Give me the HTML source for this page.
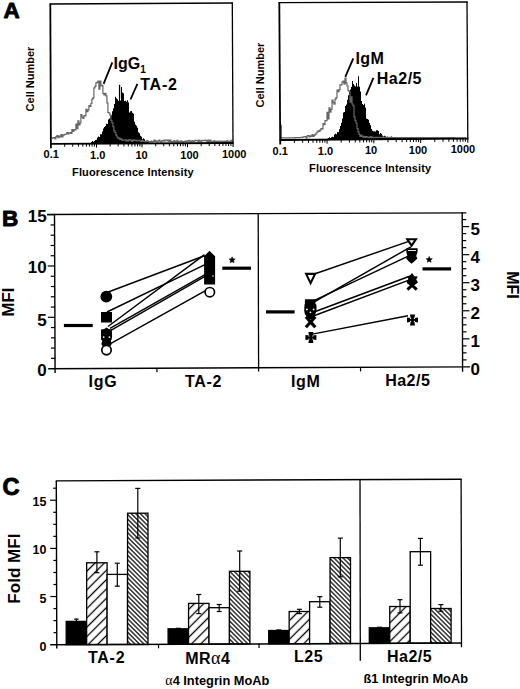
<!DOCTYPE html>
<html><head><meta charset="utf-8"><style>
html,body{margin:0;padding:0;background:#fff;}
svg{display:block;font-family:"Liberation Sans", sans-serif;}
</style></head><body>
<svg width="520" height="689" viewBox="0 0 520 689">
<rect width="520" height="689" fill="#fff"/>
<path d="M86.0,143.4L86.0,143.4L87.0,143.4L87.0,143.2L88.0,143.2L88.0,143.0L89.0,143.0L89.0,143.3L90.0,143.3L90.0,142.9L91.0,142.9L91.0,141.9L92.0,141.9L92.0,141.1L93.0,141.1L93.0,141.8L94.0,141.8L94.0,140.9L95.0,140.9L95.0,140.1L96.0,140.1L96.0,139.8L97.0,139.8L97.0,137.4L98.0,137.4L98.0,136.6L99.0,136.6L99.0,136.9L100.0,136.9L100.0,134.2L101.0,134.2L101.0,134.3L102.0,134.3L102.0,131.6L103.0,131.6L103.0,128.6L104.0,128.6L104.0,126.9L105.0,126.9L105.0,125.9L106.0,125.9L106.0,123.8L107.0,123.8L107.0,124.1L108.0,124.1L108.0,119.4L109.0,119.4L109.0,118.6L110.0,118.6L110.0,116.4L111.0,116.4L111.0,115.2L112.0,115.2L112.0,111.3L113.0,111.3L113.0,108.2L114.0,108.2L114.0,104.1L115.0,104.1L115.0,96.7L116.0,96.7L116.0,98.2L117.0,98.2L117.0,99.3L118.0,99.3L118.0,100.8L119.0,100.8L119.0,96.8L120.0,96.8L120.0,100.5L121.0,100.5L121.0,87.1L122.0,87.1L122.0,92.5L123.0,92.5L123.0,93.3L124.0,93.3L124.0,101.0L125.0,101.0L125.0,100.7L126.0,100.7L126.0,101.7L127.0,101.7L127.0,100.3L128.0,100.3L128.0,102.6L129.0,102.6L129.0,112.5L130.0,112.5L130.0,111.3L131.0,111.3L131.0,111.0L132.0,111.0L132.0,112.8L133.0,112.8L133.0,113.8L134.0,113.8L134.0,121.8L135.0,121.8L135.0,124.4L136.0,124.4L136.0,125.7L137.0,125.7L137.0,127.8L138.0,127.8L138.0,132.2L139.0,132.2L139.0,133.2L140.0,133.2L140.0,135.8L141.0,135.8L141.0,136.8L142.0,136.8L142.0,139.3L143.0,139.3L143.0,138.3L144.0,138.3L144.0,139.2L145.0,139.2L145.0,140.9L146.0,140.9L146.0,141.7L147.0,141.7L147.0,141.2L148.0,141.2L148.0,141.8L149.0,141.8L149.0,143.1L150.0,143.1L150.0,142.7L151.0,142.7L151.0,143.0L152.0,143.0L152.0,143.1L153.0,143.1L153.0,143.2L154.0,143.2L154.0,143.2L155.0,143.2L155.0,143.4Z" fill="#000"/>
<path d="M51.9,138.4L51.9,138.4L52.9,138.4L52.9,137.7L53.9,137.7L53.9,137.6L54.9,137.6L54.9,138.9L55.9,138.9L55.9,136.6L56.9,136.6L56.9,135.7L57.9,135.7L57.9,137.6L58.9,137.6L58.9,136.0L59.9,136.0L59.9,137.0L60.9,137.0L60.9,134.5L61.9,134.5L61.9,136.8L62.9,136.8L62.9,135.2L63.9,135.2L63.9,134.6L64.9,134.6L64.9,134.4L65.9,134.4L65.9,134.0L66.9,134.0L66.9,132.7L67.9,132.7L67.9,134.0L68.9,134.0L68.9,132.9L69.9,132.9L69.9,132.5L70.9,132.5L70.9,133.4L71.9,133.4L71.9,129.5L72.9,129.5L72.9,131.5L73.9,131.5L73.9,129.5L74.9,129.5L74.9,130.0L75.9,130.0L75.9,124.2L76.9,124.2L76.9,128.7L77.9,128.7L77.9,120.9L78.9,120.9L78.9,125.0L79.9,125.0L79.9,123.0L80.9,123.0L80.9,114.6L81.9,114.6L81.9,117.0L82.9,117.0L82.9,118.5L83.9,118.5L83.9,115.6L84.9,115.6L84.9,115.8L85.9,115.8L85.9,109.3L86.9,109.3L86.9,111.6L87.9,111.6L87.9,109.9L88.9,109.9L88.9,105.7L89.9,105.7L89.9,106.4L90.9,106.4L90.9,103.5L91.9,103.5L91.9,99.1L92.9,99.1L92.9,97.9L93.9,97.9L93.9,87.8L94.9,87.8L94.9,86.3L95.9,86.3L95.9,82.9L96.9,82.9L96.9,82.4L97.9,82.4L97.9,81.1L98.9,81.1L98.9,89.1L99.9,89.1L99.9,81.2L100.9,81.2L100.9,86.0L101.9,86.0L101.9,85.3L102.9,85.3L102.9,93.5L103.9,93.5L103.9,94.8L104.9,94.8L104.9,93.4L105.9,93.4L105.9,95.8L106.9,95.8L106.9,102.8L107.9,102.8L107.9,112.7L108.9,112.7L108.9,113.0L109.9,113.0L109.9,115.2L110.9,115.2L110.9,120.4L111.9,120.4L111.9,122.8L112.9,122.8L112.9,126.6L113.9,126.6L113.9,130.8L114.9,130.8L114.9,132.5L115.9,132.5L115.9,135.2L116.9,135.2L116.9,137.0L117.9,137.0L117.9,138.4L118.9,138.4L118.9,138.0L119.9,138.0L119.9,139.3L120.9,139.3L120.9,138.8L121.9,138.8L121.9,140.5L122.9,140.5L122.9,140.2L123.9,140.2L123.9,140.0L124.9,140.0L124.9,139.9L125.9,139.9L125.9,140.9L126.9,140.9L126.9,140.1L127.9,140.1L127.9,141.0L128.9,141.0L128.9,139.8L129.9,139.8L129.9,139.6L130.9,139.6L130.9,140.7L131.9,140.7L131.9,141.5L132.9,141.5L132.9,139.8L133.9,139.8L133.9,140.4L134.9,140.4L134.9,140.1L135.9,140.1L135.9,140.6L136.9,140.6L136.9,141.0L137.9,141.0L137.9,140.3L138.9,140.3L138.9,140.3L139.9,140.3L139.9,141.0L140.9,141.0L140.9,141.6L141.9,141.6L141.9,140.5L142.9,140.5L142.9,141.5L143.9,141.5L143.9,141.3L144.9,141.3L144.9,141.9L145.9,141.9L145.9,141.3L146.9,141.3L146.9,140.7L147.9,140.7L147.9,141.9L148.9,141.9L148.9,141.6L149.9,141.6L149.9,141.9L150.9,141.9L150.9,141.2L151.9,141.2L151.9,141.9L152.9,141.9L152.9,141.5L153.9,141.5L153.9,140.1L154.9,140.1L154.9,141.3L155.9,141.3L155.9,140.8L156.9,140.8L156.9,141.9L157.9,141.9L157.9,141.0L158.9,141.0L158.9,140.1L159.9,140.1L159.9,141.4L160.9,141.4L160.9,141.9L161.9,141.9L161.9,140.7L162.9,140.7L162.9,140.3L163.9,140.3L163.9,141.2L164.9,141.2L164.9,140.1L165.9,140.1L165.9,140.1L166.9,140.1L166.9,140.9L167.9,140.9L167.9,140.1L168.9,140.1L168.9,141.3L169.9,141.3L169.9,140.1L170.9,140.1L170.9,141.6L171.9,141.6L171.9,141.9L172.9,141.9L172.9,141.3L173.9,141.3L173.9,140.5L174.9,140.5L174.9,141.9L175.9,141.9L175.9,141.6L176.9,141.6L176.9,140.4L177.9,140.4L177.9,141.9L178.9,141.9L178.9,141.6L179.9,141.6L179.9,141.2L180.9,141.2L180.9,140.9L181.9,140.9L181.9,141.9L182.9,141.9L182.9,141.6L183.9,141.6L183.9,141.5L184.9,141.5L184.9,141.1L185.9,141.1L185.9,141.5L186.9,141.5L186.9,140.9L187.9,140.9L187.9,141.2L188.9,141.2L188.9,140.3L189.9,140.3L189.9,141.9L190.9,141.9L190.9,141.3L191.9,141.3L191.9,140.7L192.9,140.7L192.9,141.2L193.9,141.2L193.9,141.4L194.9,141.4L194.9,140.3L195.9,140.3L195.9,140.3L196.9,140.3L196.9,140.7L197.9,140.7L197.9,141.6L198.9,141.6L198.9,140.1L199.9,140.1L199.9,141.1L200.9,141.1L200.9,141.4L201.9,141.4L201.9,140.4L202.9,140.4L202.9,140.5L203.9,140.5L203.9,140.7L204.9,140.7L204.9,140.1L205.9,140.1L205.9,140.6L206.9,140.6L206.9,141.8L207.9,141.8L207.9,140.2L208.9,140.2L208.9,141.9L209.9,141.9L209.9,140.1L210.9,140.1L210.9,141.2L211.9,141.2L211.9,141.9L212.9,141.9L212.9,141.9L213.9,141.9L213.9,140.6L214.9,140.6L214.9,141.9L215.9,141.9L215.9,141.6L216.9,141.6L216.9,141.2L217.9,141.2L217.9,141.3L218.9,141.3L218.9,141.9L219.9,141.9L219.9,141.2L220.9,141.2L220.9,141.1L221.9,141.1L221.9,141.7L222.9,141.7L222.9,141.7L223.9,141.7L223.9,141.1L224.9,141.1L224.9,141.5L225.9,141.5L225.9,141.9L226.9,141.9L226.9,140.7L227.9,140.7L227.9,141.9L228.9,141.9L228.9,141.8L229.9,141.8L229.9,141.2L230.9,141.2L230.9,140.4L231.9,140.4L231.9,141.9L232.9,141.9" fill="none" stroke="#666" stroke-width="1.2"/>
<line x1="49.699999999999996" y1="4.0" x2="232.9" y2="3.0" stroke="#000" stroke-width="1.4" />
<line x1="232.3" y1="2.4" x2="233.0" y2="143.0" stroke="#000" stroke-width="1.3" />
<line x1="50.3" y1="3.4" x2="50.918884120171676" y2="148.20000000000002" stroke="#000" stroke-width="1.8" />
<line x1="50.3" y1="143.8" x2="233.6" y2="143.0" stroke="#000" stroke-width="1.8" />
<line x1="64.70" y1="143.74" x2="64.70" y2="146.74" stroke="#000" stroke-width="1.0" />
<line x1="72.71" y1="143.70" x2="72.71" y2="146.70" stroke="#000" stroke-width="1.0" />
<line x1="78.39" y1="143.68" x2="78.39" y2="146.68" stroke="#000" stroke-width="1.0" />
<line x1="82.80" y1="143.66" x2="82.80" y2="146.66" stroke="#000" stroke-width="1.0" />
<line x1="86.41" y1="143.64" x2="86.41" y2="146.64" stroke="#000" stroke-width="1.0" />
<line x1="89.45" y1="143.63" x2="89.45" y2="146.63" stroke="#000" stroke-width="1.0" />
<line x1="92.09" y1="143.62" x2="92.09" y2="146.62" stroke="#000" stroke-width="1.0" />
<line x1="94.42" y1="143.61" x2="94.42" y2="146.61" stroke="#000" stroke-width="1.0" />
<line x1="96.50" y1="143.60" x2="96.50" y2="147.60" stroke="#000" stroke-width="1.0" />
<line x1="110.20" y1="143.54" x2="110.20" y2="146.54" stroke="#000" stroke-width="1.0" />
<line x1="118.21" y1="143.50" x2="118.21" y2="146.50" stroke="#000" stroke-width="1.0" />
<line x1="123.89" y1="143.48" x2="123.89" y2="146.48" stroke="#000" stroke-width="1.0" />
<line x1="128.30" y1="143.46" x2="128.30" y2="146.46" stroke="#000" stroke-width="1.0" />
<line x1="131.91" y1="143.44" x2="131.91" y2="146.44" stroke="#000" stroke-width="1.0" />
<line x1="134.95" y1="143.43" x2="134.95" y2="146.43" stroke="#000" stroke-width="1.0" />
<line x1="137.59" y1="143.42" x2="137.59" y2="146.42" stroke="#000" stroke-width="1.0" />
<line x1="139.92" y1="143.41" x2="139.92" y2="146.41" stroke="#000" stroke-width="1.0" />
<line x1="142.00" y1="143.40" x2="142.00" y2="147.40" stroke="#000" stroke-width="1.0" />
<line x1="155.70" y1="143.34" x2="155.70" y2="146.34" stroke="#000" stroke-width="1.0" />
<line x1="163.71" y1="143.30" x2="163.71" y2="146.30" stroke="#000" stroke-width="1.0" />
<line x1="169.39" y1="143.28" x2="169.39" y2="146.28" stroke="#000" stroke-width="1.0" />
<line x1="173.80" y1="143.26" x2="173.80" y2="146.26" stroke="#000" stroke-width="1.0" />
<line x1="177.41" y1="143.24" x2="177.41" y2="146.24" stroke="#000" stroke-width="1.0" />
<line x1="180.45" y1="143.23" x2="180.45" y2="146.23" stroke="#000" stroke-width="1.0" />
<line x1="183.09" y1="143.22" x2="183.09" y2="146.22" stroke="#000" stroke-width="1.0" />
<line x1="185.42" y1="143.21" x2="185.42" y2="146.21" stroke="#000" stroke-width="1.0" />
<line x1="187.50" y1="143.20" x2="187.50" y2="147.20" stroke="#000" stroke-width="1.0" />
<line x1="201.20" y1="143.14" x2="201.20" y2="146.14" stroke="#000" stroke-width="1.0" />
<line x1="209.21" y1="143.10" x2="209.21" y2="146.10" stroke="#000" stroke-width="1.0" />
<line x1="214.89" y1="143.08" x2="214.89" y2="146.08" stroke="#000" stroke-width="1.0" />
<line x1="219.30" y1="143.06" x2="219.30" y2="146.06" stroke="#000" stroke-width="1.0" />
<line x1="222.91" y1="143.04" x2="222.91" y2="146.04" stroke="#000" stroke-width="1.0" />
<line x1="225.95" y1="143.03" x2="225.95" y2="146.03" stroke="#000" stroke-width="1.0" />
<line x1="228.59" y1="143.02" x2="228.59" y2="146.02" stroke="#000" stroke-width="1.0" />
<line x1="230.92" y1="143.01" x2="230.92" y2="146.01" stroke="#000" stroke-width="1.0" />
<line x1="233.00" y1="143.0" x2="233.05" y2="147.0" stroke="#000" stroke-width="1.1" />
<text x="51.2" y="157.70" font-size="11" font-weight="bold" text-anchor="middle" >0.1</text>
<text x="97.7" y="158.79" font-size="11" font-weight="bold" text-anchor="middle" >1.0</text>
<text x="141.5" y="158.60" font-size="11" font-weight="bold" text-anchor="middle" >10</text>
<text x="189.5" y="159.29" font-size="11" font-weight="bold" text-anchor="middle" >100</text>
<text x="234.2" y="158.19" font-size="11" font-weight="bold" text-anchor="middle" >1000</text>
<text x="72.1" y="175.6" font-size="11" font-weight="bold" text-anchor="start" letter-spacing="0.11" >Fluorescence Intensity</text>
<text transform="translate(33.6,79) rotate(-90)" font-size="11" font-weight="bold" text-anchor="middle">Cell Number</text>
<rect x="118.9" y="84.8" width="1.3" height="14" fill="#000"/>
<path d="M324.0,139.3L324.0,139.1L325.0,139.1L325.0,138.9L326.0,138.9L326.0,139.2L327.0,139.2L327.0,138.8L328.0,138.8L328.0,138.0L329.0,138.0L329.0,137.3L330.0,137.3L330.0,138.1L331.0,138.1L331.0,137.2L332.0,137.2L332.0,136.8L333.0,136.8L333.0,137.0L334.0,137.0L334.0,134.6L335.0,134.6L335.0,133.8L336.0,133.8L336.0,134.2L337.0,134.2L337.0,132.1L338.0,132.1L338.0,132.2L339.0,132.2L339.0,129.2L340.0,129.2L340.0,125.9L341.0,125.9L341.0,122.7L342.0,122.7L342.0,118.4L343.0,118.4L343.0,112.6L344.0,112.6L344.0,112.1L345.0,112.1L345.0,106.0L346.0,106.0L346.0,104.6L347.0,104.6L347.0,99.7L348.0,99.7L348.0,95.2L349.0,95.2L349.0,91.8L350.0,91.8L350.0,89.5L351.0,89.5L351.0,86.9L352.0,86.9L352.0,81.1L353.0,81.1L353.0,84.0L354.0,84.0L354.0,85.5L355.0,85.5L355.0,86.5L356.0,86.5L356.0,82.9L357.0,82.9L357.0,86.5L358.0,86.5L358.0,76.3L359.0,76.3L359.0,86.8L360.0,86.8L360.0,91.5L361.0,91.5L361.0,101.1L362.0,101.1L362.0,104.0L363.0,104.0L363.0,104.9L364.0,104.9L364.0,103.7L365.0,103.7L365.0,107.7L366.0,107.7L366.0,118.5L367.0,118.5L367.0,118.9L368.0,118.9L368.0,119.8L369.0,119.8L369.0,122.9L370.0,122.9L370.0,125.2L371.0,125.2L371.0,129.1L372.0,129.1L372.0,130.7L373.0,130.7L373.0,131.3L374.0,131.3L374.0,131.2L375.0,131.2L375.0,131.5L376.0,131.5L376.0,130.2L377.0,130.2L377.0,130.2L378.0,130.2L378.0,131.1L379.0,131.1L379.0,134.3L380.0,134.3L380.0,133.0L381.0,133.0L381.0,133.8L382.0,133.8L382.0,135.6L383.0,135.6L383.0,136.6L384.0,136.6L384.0,135.8L385.0,135.8L385.0,136.3L386.0,136.3L386.0,137.3L387.0,137.3L387.0,136.8L388.0,136.8L388.0,137.4L389.0,137.4L389.0,137.6L390.0,137.6L390.0,137.8L391.0,137.8L391.0,136.5L392.0,136.5L392.0,137.0L393.0,137.0L393.0,138.1L394.0,138.1L394.0,137.8L395.0,137.8L395.0,137.0L396.0,137.0L396.0,138.0L397.0,138.0L397.0,137.8L398.0,137.8L398.0,138.4L399.0,138.4L399.0,137.5L400.0,137.5L400.0,137.9L401.0,137.9L401.0,138.6L402.0,138.6L402.0,138.5L403.0,138.5L403.0,137.1L404.0,137.1L404.0,137.3L405.0,137.3L405.0,137.4L406.0,137.4L406.0,138.8L407.0,138.8L407.0,137.5L408.0,137.5L408.0,138.4L409.0,138.4L409.0,138.3L410.0,138.3L410.0,137.2L411.0,137.2L411.0,137.3L412.0,137.3L412.0,137.2L413.0,137.2L413.0,137.4L414.0,137.4L414.0,138.8L415.0,138.8L415.0,137.7L416.0,137.7L416.0,138.3L417.0,138.3L417.0,138.7L418.0,138.7L418.0,139.3L419.0,139.3L419.0,138.9L420.0,138.9L420.0,139.3L421.0,139.3L421.0,138.3L422.0,138.3L422.0,138.8L423.0,138.8L423.0,139.0L424.0,139.0L424.0,139.1L425.0,139.1L425.0,139.3Z" fill="#000"/>
<path d="M281.0,137.8L281.0,137.8L282.0,137.8L282.0,137.8L283.0,137.8L283.0,137.8L284.0,137.8L284.0,137.8L285.0,137.8L285.0,137.8L286.0,137.8L286.0,137.8L287.0,137.8L287.0,137.8L288.0,137.8L288.0,137.8L289.0,137.8L289.0,137.8L290.0,137.8L290.0,137.8L291.0,137.8L291.0,137.8L292.0,137.8L292.0,137.8L293.0,137.8L293.0,137.8L294.0,137.8L294.0,137.8L295.0,137.8L295.0,137.7L296.0,137.7L296.0,137.7L297.0,137.7L297.0,137.7L298.0,137.7L298.0,137.6L299.0,137.6L299.0,137.6L300.0,137.6L300.0,137.5L301.0,137.5L301.0,137.4L302.0,137.4L302.0,137.4L303.0,137.4L303.0,137.0L304.0,137.0L304.0,136.6L305.0,136.6L305.0,136.6L306.0,136.6L306.0,137.8L307.0,137.8L307.0,135.9L308.0,135.9L308.0,135.6L309.0,135.6L309.0,137.0L310.0,137.0L310.0,135.9L311.0,135.9L311.0,136.5L312.0,136.5L312.0,134.7L313.0,134.7L313.0,136.3L314.0,136.3L314.0,135.4L315.0,135.4L315.0,134.3L316.0,134.3L316.0,133.0L317.0,133.0L317.0,132.2L318.0,132.2L318.0,130.8L319.0,130.8L319.0,131.4L320.0,131.4L320.0,129.9L321.0,129.9L321.0,128.7L322.0,128.7L322.0,128.8L323.0,128.8L323.0,123.7L324.0,123.7L324.0,124.7L325.0,124.7L325.0,120.5L326.0,120.5L326.0,120.6L327.0,120.6L327.0,112.4L328.0,112.4L328.0,119.0L329.0,119.0L329.0,107.8L330.0,107.8L330.0,112.1L331.0,112.1L331.0,109.3L332.0,109.3L332.0,100.0L333.0,100.0L333.0,102.6L334.0,102.6L334.0,104.2L335.0,104.2L335.0,99.1L336.0,99.1L336.0,97.7L337.0,97.7L337.0,90.1L338.0,90.1L338.0,91.6L339.0,91.6L339.0,89.7L340.0,89.7L340.0,84.9L341.0,84.9L341.0,84.9L342.0,84.9L342.0,82.1L343.0,82.1L343.0,81.0L344.0,81.0L344.0,84.2L345.0,84.2L345.0,78.2L346.0,78.2L346.0,82.9L347.0,82.9L347.0,86.0L348.0,86.0L348.0,90.5L349.0,90.5L349.0,91.6L350.0,91.6L350.0,102.2L351.0,102.2L351.0,96.9L352.0,96.9L352.0,104.0L353.0,104.0L353.0,105.8L354.0,105.8L354.0,116.9L355.0,116.9L355.0,120.4L356.0,120.4L356.0,123.0L357.0,123.0L357.0,128.6L358.0,128.6L358.0,131.9L359.0,131.9L359.0,134.3L360.0,134.3L360.0,136.3L361.0,136.3L361.0,135.4L362.0,135.4L362.0,136.4L363.0,136.4L363.0,137.1L364.0,137.1L364.0,136.4L365.0,136.4L365.0,137.5L366.0,137.5L366.0,136.7L367.0,136.7L367.0,136.9L368.0,136.9L368.0,137.6L369.0,137.6L369.0,137.8L370.0,137.8L370.0,136.7L371.0,136.7L371.0,137.8L372.0,137.8L372.0,137.0L373.0,137.0L373.0,137.8L374.0,137.8L374.0,137.8L375.0,137.8L375.0,137.4L376.0,137.4L376.0,137.4L377.0,137.4L377.0,137.4L378.0,137.4L378.0,137.4L379.0,137.4L379.0,137.4L380.0,137.4L380.0,137.4L381.0,137.4L381.0,137.4L382.0,137.4L382.0,137.4L383.0,137.4L383.0,137.4L384.0,137.4L384.0,137.4L385.0,137.4L385.0,137.4L386.0,137.4L386.0,137.4L387.0,137.4L387.0,137.4L388.0,137.4L388.0,137.4L389.0,137.4L389.0,137.4L390.0,137.4L390.0,137.4L391.0,137.4L391.0,137.4L392.0,137.4L392.0,137.5L393.0,137.5L393.0,137.5L394.0,137.5L394.0,137.5L395.0,137.5L395.0,137.5L396.0,137.5L396.0,137.5L397.0,137.5L397.0,137.5L398.0,137.5L398.0,137.5L399.0,137.5L399.0,137.5L400.0,137.5L400.0,137.5L401.0,137.5L401.0,137.5L402.0,137.5L402.0,137.5L403.0,137.5L403.0,137.5L404.0,137.5L404.0,137.5L405.0,137.5L405.0,137.5L406.0,137.5L406.0,137.5L407.0,137.5L407.0,137.5L408.0,137.5L408.0,137.5L409.0,137.5L409.0,137.5L410.0,137.5L410.0,137.5L411.0,137.5L411.0,137.6L412.0,137.6L412.0,137.6L413.0,137.6L413.0,137.6L414.0,137.6L414.0,137.6L415.0,137.6L415.0,137.6L416.0,137.6L416.0,137.6L417.0,137.6L417.0,137.6L418.0,137.6L418.0,137.6L419.0,137.6L419.0,137.6L420.0,137.6L420.0,137.6L421.0,137.6L421.0,137.6L422.0,137.6L422.0,137.6L423.0,137.6L423.0,137.6L424.0,137.6L424.0,137.6L425.0,137.6L425.0,137.6L426.0,137.6L426.0,137.6L427.0,137.6L427.0,137.6L428.0,137.6L428.0,137.6L429.0,137.6L429.0,137.6L430.0,137.6L430.0,137.6L431.0,137.6L431.0,137.6L432.0,137.6L432.0,137.6L433.0,137.6L433.0,137.7L434.0,137.7L434.0,137.7L435.0,137.7L435.0,137.7L436.0,137.7L436.0,137.7L437.0,137.7L437.0,137.7L438.0,137.7L438.0,137.7L439.0,137.7L439.0,137.7L440.0,137.7L440.0,137.7L441.0,137.7L441.0,137.7L442.0,137.7L442.0,137.7L443.0,137.7L443.0,137.7L444.0,137.7L444.0,137.7L445.0,137.7L445.0,137.7L446.0,137.7L446.0,137.7L447.0,137.7L447.0,137.7L448.0,137.7L448.0,137.7L449.0,137.7L449.0,137.7L450.0,137.7L450.0,137.7L451.0,137.7L451.0,137.7L452.0,137.7L452.0,137.7L453.0,137.7L453.0,137.7L454.0,137.7L454.0,137.7L455.0,137.7L455.0,137.8L456.0,137.8L456.0,137.8L457.0,137.8L457.0,137.8L458.0,137.8L458.0,137.8L459.0,137.8L459.0,137.8L460.0,137.8L460.0,137.8L461.0,137.8L461.0,137.8L462.0,137.8L462.0,137.8L463.0,137.8L463.0,137.8L464.0,137.8L464.0,137.8L465.0,137.8L465.0,137.8L466.0,137.8" fill="none" stroke="#666" stroke-width="1.2"/>
<line x1="278.7" y1="2.6" x2="467.6" y2="2.0" stroke="#000" stroke-width="1.4" />
<line x1="467.0" y1="1.4" x2="467.8" y2="138.7" stroke="#000" stroke-width="1.3" />
<line x1="279.3" y1="2.0" x2="280.22882096069867" y2="144.4" stroke="#000" stroke-width="1.8" />
<line x1="279.59999999999997" y1="140.0" x2="468.40000000000003" y2="138.7" stroke="#000" stroke-width="1.8" />
<line x1="294.39" y1="139.90" x2="294.39" y2="142.90" stroke="#000" stroke-width="1.0" />
<line x1="302.63" y1="139.84" x2="302.63" y2="142.84" stroke="#000" stroke-width="1.0" />
<line x1="308.48" y1="139.80" x2="308.48" y2="142.80" stroke="#000" stroke-width="1.0" />
<line x1="313.01" y1="139.77" x2="313.01" y2="142.77" stroke="#000" stroke-width="1.0" />
<line x1="316.72" y1="139.75" x2="316.72" y2="142.75" stroke="#000" stroke-width="1.0" />
<line x1="319.85" y1="139.73" x2="319.85" y2="142.73" stroke="#000" stroke-width="1.0" />
<line x1="322.56" y1="139.71" x2="322.56" y2="142.71" stroke="#000" stroke-width="1.0" />
<line x1="324.96" y1="139.69" x2="324.96" y2="142.69" stroke="#000" stroke-width="1.0" />
<line x1="327.10" y1="139.67" x2="327.10" y2="143.67" stroke="#000" stroke-width="1.0" />
<line x1="341.19" y1="139.58" x2="341.19" y2="142.58" stroke="#000" stroke-width="1.0" />
<line x1="349.43" y1="139.52" x2="349.43" y2="142.52" stroke="#000" stroke-width="1.0" />
<line x1="355.28" y1="139.48" x2="355.28" y2="142.48" stroke="#000" stroke-width="1.0" />
<line x1="359.81" y1="139.45" x2="359.81" y2="142.45" stroke="#000" stroke-width="1.0" />
<line x1="363.52" y1="139.42" x2="363.52" y2="142.42" stroke="#000" stroke-width="1.0" />
<line x1="366.65" y1="139.40" x2="366.65" y2="142.40" stroke="#000" stroke-width="1.0" />
<line x1="369.36" y1="139.38" x2="369.36" y2="142.38" stroke="#000" stroke-width="1.0" />
<line x1="371.76" y1="139.37" x2="371.76" y2="142.37" stroke="#000" stroke-width="1.0" />
<line x1="373.90" y1="139.35" x2="373.90" y2="143.35" stroke="#000" stroke-width="1.0" />
<line x1="387.99" y1="139.25" x2="387.99" y2="142.25" stroke="#000" stroke-width="1.0" />
<line x1="396.23" y1="139.20" x2="396.23" y2="142.20" stroke="#000" stroke-width="1.0" />
<line x1="402.08" y1="139.16" x2="402.08" y2="142.16" stroke="#000" stroke-width="1.0" />
<line x1="406.61" y1="139.12" x2="406.61" y2="142.12" stroke="#000" stroke-width="1.0" />
<line x1="410.32" y1="139.10" x2="410.32" y2="142.10" stroke="#000" stroke-width="1.0" />
<line x1="413.45" y1="139.08" x2="413.45" y2="142.08" stroke="#000" stroke-width="1.0" />
<line x1="416.16" y1="139.06" x2="416.16" y2="142.06" stroke="#000" stroke-width="1.0" />
<line x1="418.56" y1="139.04" x2="418.56" y2="142.04" stroke="#000" stroke-width="1.0" />
<line x1="420.70" y1="139.03" x2="420.70" y2="143.03" stroke="#000" stroke-width="1.0" />
<line x1="434.79" y1="138.93" x2="434.79" y2="141.93" stroke="#000" stroke-width="1.0" />
<line x1="443.03" y1="138.87" x2="443.03" y2="141.87" stroke="#000" stroke-width="1.0" />
<line x1="448.88" y1="138.83" x2="448.88" y2="141.83" stroke="#000" stroke-width="1.0" />
<line x1="453.41" y1="138.80" x2="453.41" y2="141.80" stroke="#000" stroke-width="1.0" />
<line x1="457.12" y1="138.77" x2="457.12" y2="141.77" stroke="#000" stroke-width="1.0" />
<line x1="460.25" y1="138.75" x2="460.25" y2="141.75" stroke="#000" stroke-width="1.0" />
<line x1="462.96" y1="138.73" x2="462.96" y2="141.73" stroke="#000" stroke-width="1.0" />
<line x1="465.36" y1="138.72" x2="465.36" y2="141.72" stroke="#000" stroke-width="1.0" />
<line x1="467.80" y1="138.7" x2="467.85" y2="142.7" stroke="#000" stroke-width="1.1" />
<text x="280.2" y="154.55" font-size="11" font-weight="bold" text-anchor="middle" >0.1</text>
<text x="325.5" y="155.04" font-size="11" font-weight="bold" text-anchor="middle" >1.0</text>
<text x="371" y="153.92" font-size="11" font-weight="bold" text-anchor="middle" >10</text>
<text x="418" y="153.60" font-size="11" font-weight="bold" text-anchor="middle" >100</text>
<text x="463" y="153.28" font-size="11" font-weight="bold" text-anchor="middle" >1000</text>
<text x="309.1" y="172.0" font-size="11" font-weight="bold" text-anchor="start" letter-spacing="0.14" >Fluorescence Intensity</text>
<text transform="translate(264.0,75.1) rotate(-90)" font-size="11" font-weight="bold" text-anchor="middle">Cell Number</text>
<rect x="280.3" y="124.7" width="1.3" height="15" fill="#111"/>
<text x="3.4" y="18.3" font-size="22.4" font-weight="bold" text-anchor="start" stroke="#000" stroke-width="0.9" stroke-linejoin="round">A</text>
<text x="113.5" y="69.3" font-size="16" font-weight="bold">IgG<tspan font-size="10" dy="3.3">1</tspan></text>
<text x="140.2" y="90.4" font-size="16" font-weight="bold" text-anchor="start" letter-spacing="0.8" >TA-2</text>
<line x1="112.3" y1="62.3" x2="103.6" y2="83.9" stroke="#000" stroke-width="1.8" />
<line x1="137.4" y1="83.9" x2="130.5" y2="99.5" stroke="#000" stroke-width="1.8" />
<text x="355.4" y="63.8" font-size="16" font-weight="bold" text-anchor="start" letter-spacing="0.5" >IgM</text>
<text x="376.8" y="84.0" font-size="16" font-weight="bold" text-anchor="start" letter-spacing="0.5" >Ha2/5</text>
<line x1="353.3" y1="58.3" x2="345.3" y2="76.8" stroke="#000" stroke-width="1.8" />
<line x1="373.4" y1="77.9" x2="366" y2="95.4" stroke="#000" stroke-width="1.8" />
<line x1="47.0" y1="214.5" x2="466.3" y2="212.8" stroke="#000" stroke-width="1.3" />
<line x1="48.2" y1="368.7" x2="470.0" y2="366.9" stroke="#000" stroke-width="1.4" />
<line x1="54.5" y1="213.8695921774386" x2="55.1" y2="373.0" stroke="#000" stroke-width="1.4" />
<line x1="462.2" y1="212.21662294300026" x2="462.6" y2="371.8" stroke="#000" stroke-width="1.4" />
<line x1="258.2" y1="213.14371571667064" x2="258.6" y2="371.6" stroke="#000" stroke-width="1.3" />
<line x1="156.9" y1="368.2361308677098" x2="157.0" y2="372.2361308677098" stroke="#000" stroke-width="1.2" />
<line x1="360.5" y1="367.36728307254623" x2="360.6" y2="371.36728307254623" stroke="#000" stroke-width="1.2" />
<line x1="51.04" y1="358.34" x2="55.04" y2="358.34" stroke="#000" stroke-width="1.2" />
<line x1="51.01" y1="348.08" x2="55.01" y2="348.08" stroke="#000" stroke-width="1.2" />
<line x1="50.97" y1="337.82" x2="54.97" y2="337.82" stroke="#000" stroke-width="1.2" />
<line x1="50.93" y1="327.56" x2="54.93" y2="327.56" stroke="#000" stroke-width="1.2" />
<line x1="47.89" y1="317.30" x2="54.89" y2="317.30" stroke="#000" stroke-width="1.2" />
<line x1="50.85" y1="307.04" x2="54.85" y2="307.04" stroke="#000" stroke-width="1.2" />
<line x1="50.81" y1="296.78" x2="54.81" y2="296.78" stroke="#000" stroke-width="1.2" />
<line x1="50.77" y1="286.52" x2="54.77" y2="286.52" stroke="#000" stroke-width="1.2" />
<line x1="50.73" y1="276.26" x2="54.73" y2="276.26" stroke="#000" stroke-width="1.2" />
<line x1="47.69" y1="266.00" x2="54.69" y2="266.00" stroke="#000" stroke-width="1.2" />
<line x1="50.66" y1="255.74" x2="54.66" y2="255.74" stroke="#000" stroke-width="1.2" />
<line x1="50.62" y1="245.48" x2="54.62" y2="245.48" stroke="#000" stroke-width="1.2" />
<line x1="50.58" y1="235.22" x2="54.58" y2="235.22" stroke="#000" stroke-width="1.2" />
<line x1="50.54" y1="224.96" x2="54.54" y2="224.96" stroke="#000" stroke-width="1.2" />
<line x1="47.50" y1="214.70" x2="54.50" y2="214.70" stroke="#000" stroke-width="1.2" />
<text x="46.6" y="376.3" font-size="17" font-weight="bold" text-anchor="end" >0</text>
<text x="46.6" y="325.8" font-size="17" font-weight="bold" text-anchor="end" >5</text>
<text x="46.6" y="273.2" font-size="17" font-weight="bold" text-anchor="end" >10</text>
<text x="46.6" y="221.7" font-size="17" font-weight="bold" text-anchor="end" >15</text>
<line x1="462.57" y1="359.88" x2="466.57" y2="359.88" stroke="#000" stroke-width="1.2" />
<line x1="462.55" y1="352.87" x2="466.55" y2="352.87" stroke="#000" stroke-width="1.2" />
<line x1="462.53" y1="345.85" x2="466.53" y2="345.85" stroke="#000" stroke-width="1.2" />
<line x1="462.52" y1="338.84" x2="469.52" y2="338.84" stroke="#000" stroke-width="1.2" />
<line x1="462.50" y1="331.82" x2="466.50" y2="331.82" stroke="#000" stroke-width="1.2" />
<line x1="462.48" y1="324.81" x2="466.48" y2="324.81" stroke="#000" stroke-width="1.2" />
<line x1="462.46" y1="317.79" x2="466.46" y2="317.79" stroke="#000" stroke-width="1.2" />
<line x1="462.45" y1="310.78" x2="469.45" y2="310.78" stroke="#000" stroke-width="1.2" />
<line x1="462.43" y1="303.76" x2="466.43" y2="303.76" stroke="#000" stroke-width="1.2" />
<line x1="462.41" y1="296.75" x2="466.41" y2="296.75" stroke="#000" stroke-width="1.2" />
<line x1="462.39" y1="289.74" x2="466.39" y2="289.74" stroke="#000" stroke-width="1.2" />
<line x1="462.38" y1="282.72" x2="469.38" y2="282.72" stroke="#000" stroke-width="1.2" />
<line x1="462.36" y1="275.70" x2="466.36" y2="275.70" stroke="#000" stroke-width="1.2" />
<line x1="462.34" y1="268.69" x2="466.34" y2="268.69" stroke="#000" stroke-width="1.2" />
<line x1="462.32" y1="261.67" x2="466.32" y2="261.67" stroke="#000" stroke-width="1.2" />
<line x1="462.31" y1="254.66" x2="469.31" y2="254.66" stroke="#000" stroke-width="1.2" />
<line x1="462.29" y1="247.64" x2="466.29" y2="247.64" stroke="#000" stroke-width="1.2" />
<line x1="462.27" y1="240.63" x2="466.27" y2="240.63" stroke="#000" stroke-width="1.2" />
<line x1="462.25" y1="233.61" x2="466.25" y2="233.61" stroke="#000" stroke-width="1.2" />
<line x1="462.23" y1="226.60" x2="469.23" y2="226.60" stroke="#000" stroke-width="1.2" />
<line x1="462.22" y1="219.58" x2="466.22" y2="219.58" stroke="#000" stroke-width="1.2" />
<text x="470.6" y="375.1" font-size="17" font-weight="bold" text-anchor="start" >0</text>
<text x="470.6" y="347.0" font-size="17" font-weight="bold" text-anchor="start" >1</text>
<text x="470.6" y="319.0" font-size="17" font-weight="bold" text-anchor="start" >2</text>
<text x="470.6" y="290.9" font-size="17" font-weight="bold" text-anchor="start" >3</text>
<text x="470.6" y="262.9" font-size="17" font-weight="bold" text-anchor="start" >4</text>
<text x="470.6" y="234.8" font-size="17" font-weight="bold" text-anchor="start" >5</text>
<text x="2.0" y="225.7" font-size="22.6" font-weight="bold" text-anchor="start" stroke="#000" stroke-width="0.9" stroke-linejoin="round">B</text>
<text transform="translate(14.3,302.1) rotate(-90)" font-size="16.8" font-weight="bold" text-anchor="middle">MFI</text>
<text transform="translate(506.8,285) rotate(90)" font-size="16" font-weight="bold" text-anchor="middle">MFI</text>
<text x="102.94999999999999" y="386.5" font-size="16" font-weight="bold" text-anchor="middle" letter-spacing="0.7" >IgG</text>
<text x="203.54999999999998" y="387.0" font-size="16" font-weight="bold" text-anchor="middle" letter-spacing="0.7" >TA-2</text>
<text x="305.7" y="386.8" font-size="16" font-weight="bold" text-anchor="middle" letter-spacing="0.6" >IgM</text>
<text x="407.75" y="385.8" font-size="16" font-weight="bold" text-anchor="middle" letter-spacing="0.5" >Ha2/5</text>
<rect x="63.9" y="323.9" width="28.800000000000004" height="3.2" fill="#000"/>
<rect x="222.3" y="266.59999999999997" width="28.69999999999999" height="3.2" fill="#000"/>
<rect x="266" y="310.29999999999995" width="28.600000000000023" height="3.2" fill="#000"/>
<rect x="422.5" y="267.29999999999995" width="28.600000000000023" height="3.2" fill="#000"/>
<path d="M232.10,256.80 L233.01,258.85 L235.24,259.08 L233.57,260.58 L234.04,262.77 L232.10,261.65 L230.16,262.77 L230.63,260.58 L228.96,259.08 L231.19,258.85Z" fill="#000" stroke="#000" stroke-width="0.5" stroke-linejoin="round"/>
<path d="M429.20,256.40 L430.11,258.45 L432.34,258.68 L430.67,260.18 L431.14,262.37 L429.20,261.25 L427.26,262.37 L427.73,260.18 L426.06,258.68 L428.29,258.45Z" fill="#000" stroke="#000" stroke-width="0.5" stroke-linejoin="round"/>
<line x1="106.3" y1="292.7" x2="204.5" y2="255.7" stroke="#000" stroke-width="1.45" />
<line x1="107" y1="312" x2="205" y2="264.6" stroke="#000" stroke-width="1.45" />
<line x1="108" y1="326.5" x2="204.5" y2="254.7" stroke="#000" stroke-width="1.45" />
<line x1="110" y1="328.4" x2="205" y2="274.6" stroke="#000" stroke-width="1.45" />
<line x1="110" y1="330.8" x2="205" y2="276.3" stroke="#000" stroke-width="1.45" />
<line x1="111" y1="343.3" x2="206" y2="290.3" stroke="#000" stroke-width="1.45" />
<line x1="311.5" y1="275" x2="410.9" y2="240.6" stroke="#000" stroke-width="1.45" />
<line x1="313.9" y1="302.2" x2="410.9" y2="246.8" stroke="#000" stroke-width="1.45" />
<line x1="313.9" y1="300.6" x2="410.9" y2="254.8" stroke="#000" stroke-width="1.45" />
<line x1="314" y1="312" x2="410.9" y2="275.7" stroke="#000" stroke-width="1.45" />
<line x1="314" y1="315.7" x2="410.9" y2="279.4" stroke="#000" stroke-width="1.45" />
<line x1="311" y1="334.4" x2="408" y2="315.7" stroke="#000" stroke-width="1.45" />
<circle cx="106.3" cy="296.6" r="5.9" fill="#000"/>
<rect x="101" y="312" width="11" height="10.5" fill="#000"/>
<path d="M106.5,327.6 L108.8,328.9 L111.9,329.5 L112.1,336.4 L111.7,339.3 L110.9,341.0 L111.6,343.9 L110.6,346.2 L106.5,347.2 L102.5,346.2 L101.3,343.9 L102.3,341.0 L101.0,339.3 L101.0,329.5 L104.2,328.9Z" fill="#000" />
<circle cx="103.7" cy="337.1" r="0.9" fill="#fff"/>
<circle cx="109.4" cy="337.1" r="0.9" fill="#fff"/>
<circle cx="106.5" cy="350.1" r="4.7" fill="#fff" stroke="#000" stroke-width="1.7"/>
<path d="M209.5,250.8 L215.1,256.3 L215.1,284.6 L204.1,284.6 L204.1,256.3Z" fill="#000" />
<circle cx="213" cy="276" r="0.8" fill="#fff"/>
<circle cx="209.8" cy="292.2" r="4.7" fill="#fff" stroke="#000" stroke-width="1.7"/>
<path d="M306.1,273.9 L315.1,273.9 L310.6,283.2Z" fill="#fff" stroke="#000" stroke-width="2.1" stroke-linejoin="miter"/>
<path d="M304.9,299.2 L315.4,299.2 L315.4,303.7 L316.5,305.1 L316.5,311.2 L315.3,314.0 L314.2,316.4 L313.5,319.0 L307.5,319.0 L306.6,316.4 L304.8,314.0 L304.2,310.6 L304.5,304.8 L304.9,303.7Z" fill="#000" />
<path d="M306.90000000000003,317.9 L314.3,326.1 M314.3,317.9 L306.90000000000003,326.1" stroke="#000" stroke-width="3.1" stroke-linecap="square"/>
<circle cx="306.9" cy="309.4" r="0.9" fill="#fff"/>
<circle cx="313.6" cy="309.4" r="0.9" fill="#fff"/>
<circle cx="310.4" cy="312.3" r="0.9" fill="#fff"/>
<path d="M308.4,332.0 L313.4,332.0 L312.8,335.6 L316.4,335.0 L316.4,340.0 L312.8,339.4 L313.4,343.0 L308.4,343.0 L309.0,339.4 L305.4,340.0 L305.4,335.0 L309.0,335.6Z" fill="#000" />
<circle cx="309.0" cy="336.0" r="0.6" fill="#fff"/>
<circle cx="309.0" cy="339.0" r="0.6" fill="#fff"/>
<circle cx="312.79999999999995" cy="336.0" r="0.6" fill="#fff"/>
<circle cx="312.79999999999995" cy="339.0" r="0.6" fill="#fff"/>
<path d="M407.3,239.3 L415.9,239.3 L411.6,245.6Z" fill="#fff" stroke="#000" stroke-width="2.1" stroke-linejoin="miter"/>
<path d="M406.3,248.3 L417.6,248.3 L417.6,252.0 L416.2,256.0 L417.4,258.5 L414.5,261.2 L411.6,263.8 L408.6,261.2 L406.2,258.5 L407.4,256.0 L406.3,252.0Z" fill="#000" />
<rect x="408" y="250.1" width="8" height="0.9" fill="#fff"/>
<path d="M412.0,273.1 L414.4,276.2 L417.8,276.6 L416.2,279.6 L417.8,282.6 L415.6,284.2 L407.8,284.2 L406.8,281.6 L408.4,279.0 L407.2,276.6 L409.6,276.2Z" fill="#000" />
<path d="M408.5,282.0 L415.70000000000005,288.6 M415.70000000000005,282.0 L408.5,288.6" stroke="#000" stroke-width="3.0" stroke-linecap="square"/>
<path d="M410.0,314.4 L415.0,314.4 L414.4,318.0 L418.0,317.4 L418.0,322.4 L414.4,321.8 L415.0,325.4 L410.0,325.4 L410.6,321.8 L407.0,322.4 L407.0,317.4 L410.6,318.0Z" fill="#000" />
<circle cx="410.6" cy="318.4" r="0.6" fill="#fff"/>
<circle cx="410.6" cy="321.4" r="0.6" fill="#fff"/>
<circle cx="414.4" cy="318.4" r="0.6" fill="#fff"/>
<circle cx="414.4" cy="321.4" r="0.6" fill="#fff"/>
<defs><pattern id="h1" patternUnits="userSpaceOnUse" width="6.6" height="6.6" patternTransform="rotate(45)"><rect width="6.6" height="6.6" fill="#fff"/><line x1="3.3" y1="0" x2="3.3" y2="6.6" stroke="#000" stroke-width="1.3"/></pattern><pattern id="h2" patternUnits="userSpaceOnUse" width="3.2" height="3.2" patternTransform="rotate(-45)"><rect width="3.2" height="3.2" fill="#fff"/><line x1="1.6" y1="0" x2="1.6" y2="3.2" stroke="#000" stroke-width="1.2"/></pattern></defs>
<rect x="66.20" y="621.4" width="20.45" height="23.2" fill="#000" stroke="#000" stroke-width="1.3"/>
<line x1="76.4" y1="619.1400000000001" x2="76.4" y2="621.44" stroke="#000" stroke-width="1.2" />
<line x1="74.2" y1="619.1400000000001" x2="78.6" y2="619.1400000000001" stroke="#000" stroke-width="1.3" />
<rect x="86.65" y="562.8" width="20.45" height="81.8" fill="url(#h1)" stroke="#000" stroke-width="1.3"/>
<line x1="96.9" y1="551.8" x2="96.9" y2="572.7" stroke="#000" stroke-width="1.2" />
<line x1="94.4" y1="551.8" x2="99.4" y2="551.8" stroke="#000" stroke-width="1.2" />
<line x1="94.4" y1="572.7" x2="99.4" y2="572.7" stroke="#000" stroke-width="1.2" />
<rect x="107.10" y="574.4" width="20.45" height="70.1" fill="#fff" stroke="#000" stroke-width="1.3"/>
<line x1="117.3" y1="563.2" x2="117.3" y2="586.2" stroke="#000" stroke-width="1.2" />
<line x1="114.8" y1="563.2" x2="119.8" y2="563.2" stroke="#000" stroke-width="1.2" />
<line x1="114.8" y1="586.2" x2="119.8" y2="586.2" stroke="#000" stroke-width="1.2" />
<rect x="127.55" y="513.2" width="20.45" height="131.3" fill="url(#h2)" stroke="#000" stroke-width="1.3"/>
<line x1="137.8" y1="488.4" x2="137.8" y2="538" stroke="#000" stroke-width="1.2" />
<line x1="135.3" y1="488.4" x2="140.3" y2="488.4" stroke="#000" stroke-width="1.2" />
<line x1="135.3" y1="538" x2="140.3" y2="538" stroke="#000" stroke-width="1.2" />
<rect x="168.10" y="628.8" width="20.45" height="15.4" fill="#000" stroke="#000" stroke-width="1.3"/>
<line x1="175.8" y1="628.232" x2="180.8" y2="628.232" stroke="#000" stroke-width="1.0" />
<rect x="188.55" y="603.4" width="20.45" height="40.8" fill="url(#h1)" stroke="#000" stroke-width="1.3"/>
<line x1="198.8" y1="594.5" x2="198.8" y2="613.6" stroke="#000" stroke-width="1.2" />
<line x1="196.3" y1="594.5" x2="201.3" y2="594.5" stroke="#000" stroke-width="1.2" />
<line x1="196.3" y1="613.6" x2="201.3" y2="613.6" stroke="#000" stroke-width="1.2" />
<rect x="209.00" y="607.7" width="20.45" height="36.3" fill="#fff" stroke="#000" stroke-width="1.3"/>
<line x1="219.2" y1="604.5" x2="219.2" y2="611.5" stroke="#000" stroke-width="1.2" />
<line x1="216.7" y1="604.5" x2="221.7" y2="604.5" stroke="#000" stroke-width="1.2" />
<line x1="216.7" y1="611.5" x2="221.7" y2="611.5" stroke="#000" stroke-width="1.2" />
<rect x="229.45" y="571.3" width="20.45" height="72.6" fill="url(#h2)" stroke="#000" stroke-width="1.3"/>
<line x1="239.7" y1="551" x2="239.7" y2="591.2" stroke="#000" stroke-width="1.2" />
<line x1="237.2" y1="551" x2="242.2" y2="551" stroke="#000" stroke-width="1.2" />
<line x1="237.2" y1="591.2" x2="242.2" y2="591.2" stroke="#000" stroke-width="1.2" />
<rect x="268.70" y="630.5" width="20.45" height="13.3" fill="#000" stroke="#000" stroke-width="1.3"/>
<line x1="276.4" y1="629.864" x2="281.4" y2="629.864" stroke="#000" stroke-width="1.0" />
<rect x="289.15" y="611.5" width="20.45" height="32.3" fill="url(#h1)" stroke="#000" stroke-width="1.3"/>
<line x1="299.4" y1="609.3" x2="299.4" y2="613.6" stroke="#000" stroke-width="1.2" />
<line x1="296.9" y1="609.3" x2="301.9" y2="609.3" stroke="#000" stroke-width="1.2" />
<line x1="296.9" y1="613.6" x2="301.9" y2="613.6" stroke="#000" stroke-width="1.2" />
<rect x="309.60" y="601.7" width="20.45" height="42.0" fill="#fff" stroke="#000" stroke-width="1.3"/>
<line x1="319.8" y1="596.7" x2="319.8" y2="607.2" stroke="#000" stroke-width="1.2" />
<line x1="317.3" y1="596.7" x2="322.3" y2="596.7" stroke="#000" stroke-width="1.2" />
<line x1="317.3" y1="607.2" x2="322.3" y2="607.2" stroke="#000" stroke-width="1.2" />
<rect x="330.05" y="557.6" width="20.45" height="85.9" fill="url(#h2)" stroke="#000" stroke-width="1.3"/>
<line x1="340.3" y1="538.1" x2="340.3" y2="576.8" stroke="#000" stroke-width="1.2" />
<line x1="337.8" y1="538.1" x2="342.8" y2="538.1" stroke="#000" stroke-width="1.2" />
<line x1="337.8" y1="576.8" x2="342.8" y2="576.8" stroke="#000" stroke-width="1.2" />
<rect x="369.30" y="627.8" width="20.45" height="15.6" fill="#000" stroke="#000" stroke-width="1.3"/>
<line x1="377.0" y1="627.1759999999999" x2="382.0" y2="627.1759999999999" stroke="#000" stroke-width="1.0" />
<rect x="389.75" y="606.5" width="20.45" height="36.8" fill="url(#h1)" stroke="#000" stroke-width="1.3"/>
<line x1="400.0" y1="599.7" x2="400.0" y2="612.9" stroke="#000" stroke-width="1.2" />
<line x1="397.5" y1="599.7" x2="402.5" y2="599.7" stroke="#000" stroke-width="1.2" />
<line x1="397.5" y1="612.9" x2="402.5" y2="612.9" stroke="#000" stroke-width="1.2" />
<rect x="410.20" y="551.7" width="20.45" height="91.4" fill="#fff" stroke="#000" stroke-width="1.3"/>
<line x1="420.4" y1="538.4" x2="420.4" y2="565.2" stroke="#000" stroke-width="1.2" />
<line x1="417.9" y1="538.4" x2="422.9" y2="538.4" stroke="#000" stroke-width="1.2" />
<line x1="417.9" y1="565.2" x2="422.9" y2="565.2" stroke="#000" stroke-width="1.2" />
<rect x="430.65" y="608.5" width="20.45" height="34.6" fill="url(#h2)" stroke="#000" stroke-width="1.3"/>
<line x1="440.9" y1="604.6" x2="440.9" y2="611.2" stroke="#000" stroke-width="1.2" />
<line x1="438.4" y1="604.6" x2="443.4" y2="604.6" stroke="#000" stroke-width="1.2" />
<line x1="438.4" y1="611.2" x2="443.4" y2="611.2" stroke="#000" stroke-width="1.2" />
<line x1="55.699999999999996" y1="480.9" x2="461.70000000000005" y2="479.2" stroke="#000" stroke-width="1.4" />
<line x1="56.3" y1="480.9" x2="56.8" y2="648.6" stroke="#000" stroke-width="1.4" />
<line x1="461.1" y1="479.2" x2="461.5" y2="647.3" stroke="#000" stroke-width="1.3" />
<line x1="50.2" y1="644.8" x2="462.0" y2="643.0" stroke="#000" stroke-width="1.5" />
<line x1="360.0" y1="479.62458003952565" x2="360.3" y2="660.8" stroke="#000" stroke-width="1.3" />
<line x1="158.5" y1="644.3260393873085" x2="158.52" y2="648.3260393873085" stroke="#000" stroke-width="1.2" />
<line x1="259.0" y1="643.886214442013" x2="259.02" y2="647.886214442013" stroke="#000" stroke-width="1.2" />
<line x1="53.55" y1="632.66" x2="56.75" y2="632.66" stroke="#000" stroke-width="1.2" />
<line x1="53.52" y1="620.62" x2="56.72" y2="620.62" stroke="#000" stroke-width="1.2" />
<line x1="53.48" y1="608.59" x2="56.68" y2="608.59" stroke="#000" stroke-width="1.2" />
<line x1="50.34" y1="596.55" x2="56.64" y2="596.55" stroke="#000" stroke-width="1.2" />
<line x1="53.41" y1="584.51" x2="56.61" y2="584.51" stroke="#000" stroke-width="1.2" />
<line x1="53.37" y1="572.48" x2="56.57" y2="572.48" stroke="#000" stroke-width="1.2" />
<line x1="53.34" y1="560.44" x2="56.54" y2="560.44" stroke="#000" stroke-width="1.2" />
<line x1="50.20" y1="548.40" x2="56.50" y2="548.40" stroke="#000" stroke-width="1.2" />
<line x1="53.27" y1="536.36" x2="56.47" y2="536.36" stroke="#000" stroke-width="1.2" />
<line x1="53.23" y1="524.33" x2="56.43" y2="524.33" stroke="#000" stroke-width="1.2" />
<line x1="53.19" y1="512.29" x2="56.39" y2="512.29" stroke="#000" stroke-width="1.2" />
<line x1="50.06" y1="500.25" x2="56.36" y2="500.25" stroke="#000" stroke-width="1.2" />
<line x1="53.12" y1="488.21" x2="56.32" y2="488.21" stroke="#000" stroke-width="1.2" />
<text x="46.5" y="650.7" font-size="12.5" font-weight="bold" text-anchor="end" >0</text>
<text x="46.5" y="602.6" font-size="12.5" font-weight="bold" text-anchor="end" >5</text>
<text x="46.5" y="554.4" font-size="12.5" font-weight="bold" text-anchor="end" >10</text>
<text x="46.5" y="506.2" font-size="12.5" font-weight="bold" text-anchor="end" >15</text>
<text x="2.6" y="495.0" font-size="23.6" font-weight="bold" text-anchor="start" stroke="#000" stroke-width="0.9" stroke-linejoin="round">C</text>
<text transform="translate(19.9,568.6) rotate(-90)" font-size="17.1" font-weight="bold" text-anchor="middle">Fold MFI</text>
<text x="106.64999999999999" y="662.8" font-size="16" font-weight="bold" text-anchor="middle" letter-spacing="0.7" >TA-2</text>
<text x="185.2" y="663.6" font-size="16" font-weight="bold" letter-spacing="0.5">MR<tspan font-family="Liberation Serif" font-weight="normal" font-size="18">α</tspan>4</text>
<text x="308.55" y="662.2" font-size="16" font-weight="bold" text-anchor="middle" letter-spacing="0.5" >L25</text>
<text x="409.55" y="662.2" font-size="16" font-weight="bold" text-anchor="middle" letter-spacing="0.5" >Ha2/5</text>
<text x="165.3" y="684.6" font-size="12.8" font-weight="bold"><tspan font-family="Liberation Serif" font-weight="normal" font-size="14">α</tspan>4 Integrin MoAb</text>
<text x="363.5" y="682.8" font-size="12.8" font-weight="bold" text-anchor="start" >ß1 Integrin MoAb</text>
</svg></body></html>
